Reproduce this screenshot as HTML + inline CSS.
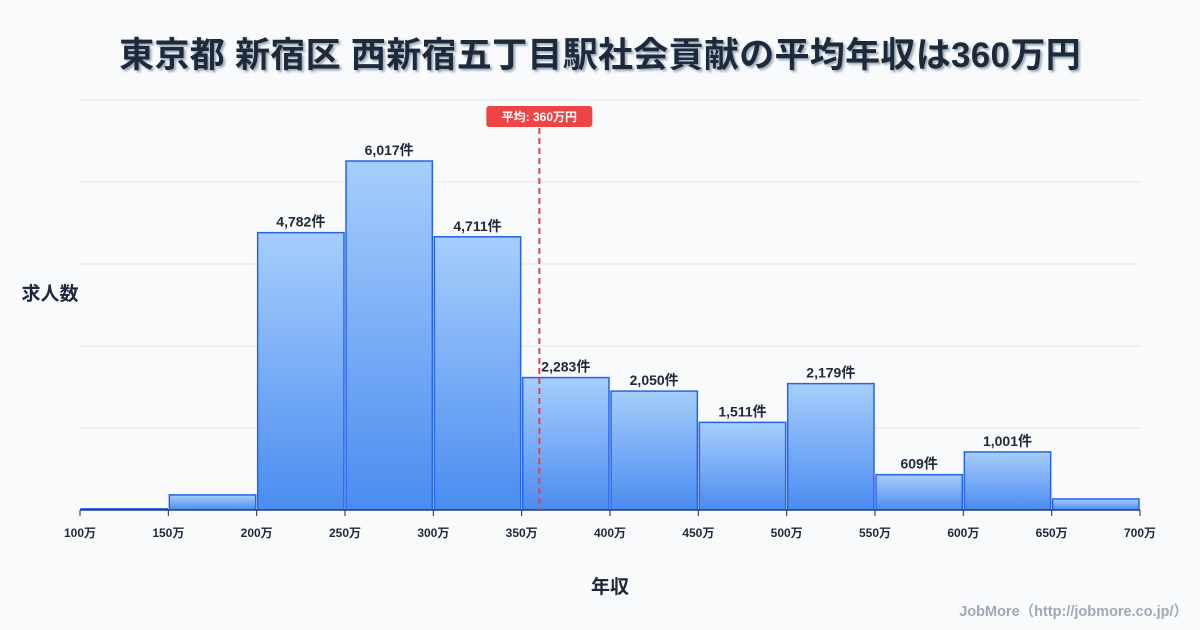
<!DOCTYPE html>
<html><head><meta charset="utf-8"><style>
body{margin:0;background:#f8fafc;font-family:"Liberation Sans","Noto Sans CJK JP",sans-serif;}
#wrap{position:relative;width:1200px;height:630px;overflow:hidden;background:#f8fafc;}
</style></head><body>
<div id="wrap">
<svg id="chart" width="1200" height="630">
<defs><linearGradient id="g" x1="0" y1="0" x2="0" y2="1"><stop offset="0" stop-color="#a6cefc"/><stop offset="1" stop-color="#4b8cf0"/></linearGradient>
<filter id="sh" x="-5%" y="-20%" width="110%" height="150%"><feDropShadow dx="2" dy="2" stdDeviation="1" flood-color="#64748b" flood-opacity="0.6"/></filter></defs>
<text x="600" y="67" text-anchor="middle" font-size="35" font-weight="bold" fill="#1e293b" letter-spacing="0.3" filter="url(#sh)">東京都 新宿区 西新宿五丁目駅社会貢献の平均年収は360万円</text>
<text x="50" y="300" text-anchor="middle" font-size="19" font-weight="bold" fill="#1e293b">求人数</text>
<text x="610" y="593" text-anchor="middle" font-size="19" font-weight="bold" fill="#1e293b">年収</text>
<text x="1188" y="616" text-anchor="end" font-size="14.5" font-weight="bold" fill="#a0a8b4">JobMore（http://jobmore.co.jp/）</text>
<g id="grid"></g><g id="bars"></g><g id="xt"></g><g id="mean"></g>
</svg></div>
<script>
const binStarts=[100,150,200,250,300,350,400,450,500,550,600,650];
const counts=[20,260,4782,6017,4711,2283,2050,1511,2179,609,1001,190];
const labels=["","","4,782件","6,017件","4,711件","2,283件","2,050件","1,511件","2,179件","609件","1,001件",""];
const xTicks=[100,150,200,250,300,350,400,450,500,550,600,650,700];
const meanVal=360;
const NS="http://www.w3.org/2000/svg";
const x=v=>80+(v-100)/600*1060;
const y=v=>510-v*0.058;
function mk(t,a,p){const e=document.createElementNS(NS,t);for(const k in a)e.setAttribute(k,a[k]);p.appendChild(e);return e;}
const grid=document.getElementById('grid');
for(let i=0;i<=5;i++){const gy=100+i*82;const l=mk('line',{x1:80,x2:1140,y1:gy,y2:gy,stroke:'#e5e7eb','stroke-width':1},grid);

}
const bars=document.getElementById('bars');
binStarts.forEach((b,i)=>{const x0=x(b)+1,x1=x(b+50)-1;const r=mk('rect',{x:x0,y:y(counts[i]),width:x1-x0,height:510-y(counts[i]),fill:'url(#g)',stroke:'#2563eb','stroke-width':1.5},bars);


if(labels[i]){const t=mk('text',{x:(x0+x1)/2,y:y(counts[i])-6,'text-anchor':'middle','font-size':14,'font-weight':'bold',fill:'#1e293b'},bars);t.textContent=labels[i];

}});
const xt=document.getElementById('xt');
const ax=mk('line',{x1:80,x2:1140,y1:510,y2:510,stroke:'#1e293b','stroke-width':1},xt);


xTicks.forEach(v=>{const tk=mk('line',{x1:x(v),x2:x(v),y1:510,y2:516,stroke:'#1e293b'},xt);


const t=mk('text',{x:x(v),y:537,'text-anchor':'middle','font-size':12,'font-weight':'bold',fill:'#1e293b'},xt);t.textContent=v+'万';

});
const m=document.getElementById('mean');const mx=x(meanVal);
const ml=mk('line',{x1:mx,x2:mx,y1:128,y2:510,stroke:'#e04444','stroke-width':2,'stroke-dasharray':'6,4'},m);


const mb=mk('rect',{x:mx-53,y:106,width:106,height:21,rx:3,fill:'#ef4444'},m);


const mt=mk('text',{x:mx,y:121,'text-anchor':'middle','font-size':12,'font-weight':'bold',fill:'#fff'},m);mt.textContent='平均: '+meanVal+'万円';


</script></body></html>
